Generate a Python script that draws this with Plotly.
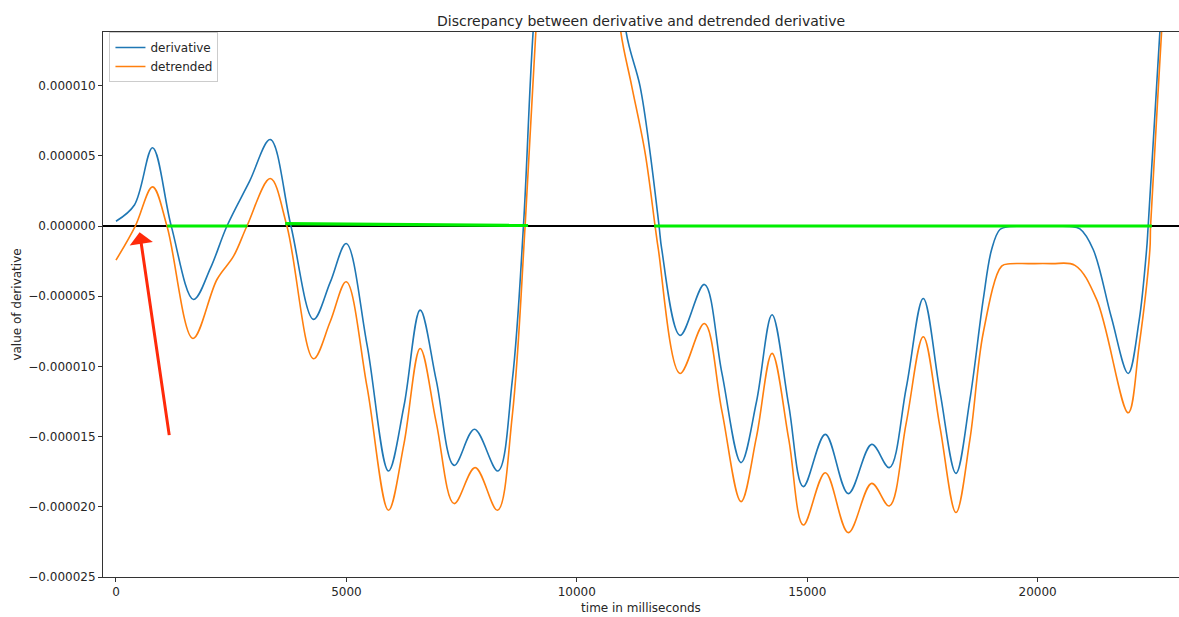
import numpy as np
import plotly.graph_objects as go

# ---- data (y values in units of 1e-6) ----
deriv_t = [0, 400, 794, 1200, 1683, 2050, 2408, 2900, 3347, 3796, 4286, 4650, 4996, 5450, 5913,
           6250, 6601, 6950, 7338, 7779, 8286, 8600, 8842, 9052, 9400, 9900, 10500, 10900, 11069,
           11373, 11590, 11785, 11844, 12241, 12768, 13150, 13564, 13900, 14236, 14600, 14915, 15393,
           15892, 16399, 16781, 17150, 17518, 17880, 18228, 18531, 18820, 19002, 19182, 19400,
           19800, 20300, 20700, 20918, 21206, 21600, 21966, 22200, 22365, 22399, 22653, 22950]
deriv_v = [0.34, 1.5, 5.57, -0.01, -5.23, -3.0, 0.0, 3.2, 6.16, 0.0, -6.65, -4.0, -1.25, -8.5, -17.45,
           -12.8, -5.99, -11.0, -17.05, -14.48, -17.45, -11.0, 0.0, 13.84, 28.0, 38.0, 36.0, 22.0, 13.84,
           9.95, 5.23, 0.0, -1.67, -7.79, -4.16, -10.5, -16.85, -12.5, -6.32, -12.8, -18.56, -14.84,
           -19.06, -15.55, -17.21, -11.5, -5.16, -11.8, -17.62, -12.35, -5.23, -1.67, -0.25, -0.03,
           -0.02, -0.02, -0.03, -0.2, -1.67, -6.5, -10.5, -6.8, -1.67, 0.0, 13.84, 30.0]

detr_t = [0, 419, 794, 1106, 1670, 2191, 2551, 2842, 3347, 3709, 4286, 4650, 4996, 5450, 5913,
          6250, 6601, 6950, 7338, 7794, 8278, 8600, 8878, 9111, 9400, 9900, 10400, 10800, 10954,
          11193, 11482, 11699, 11770, 12241, 12768, 13150, 13564, 13900, 14236, 14600, 14915, 15393,
          15892, 16399, 16781, 17150, 17518, 17880, 18228, 18531, 18820, 19219, 19400,
          19800, 20300, 20810, 21280, 21966, 22200, 22436, 22451, 22690, 22950]
detr_v = [-2.43, 0.0, 2.79, 0.0, -8.01, -3.81, -2.15, 0.0, 3.38, 0.0, -9.45, -6.8, -3.97, -11.5, -20.25,
          -15.5, -8.72, -14.0, -19.77, -17.21, -20.25, -13.5, 0.0, 13.84, 27.0, 37.0, 35.0, 20.0, 13.84,
          9.95, 5.21, 0.0, -1.67, -10.5, -6.94, -13.2, -19.63, -15.0, -9.07, -15.2, -21.3, -17.57,
          -21.84, -18.33, -19.94, -14.0, -7.89, -14.3, -20.41, -15.2, -7.6, -2.86, -2.69,
          -2.68, -2.68, -2.8, -5.23, -13.3, -8.6, -1.67, 0.0, 13.84, 29.0]

green_segments = [
    ([1113, 2848], [0.0, 0.0]),
    ([3672, 8943], [0.17, 0.04]),
    ([11677, 22479], [0.0, 0.0]),
]

arrow_tail = (1160, -15.0)
arrow_head = (512, -0.44)

x_ticks = [0, 5000, 10000, 15000, 20000]
x_tick_labels = ["0", "5000", "10000", "15000", "20000"]
y_ticks = [10, 5, 0, -5, -10, -15, -20, -25]
y_tick_labels = ["0.000010", "0.000005", "0.000000", "\u22120.000005", "\u22120.000010",
                 "\u22120.000015", "\u22120.000020", "\u22120.000025"]

S = 1e-6
FONT = "DejaVu Sans"

fig = go.Figure()
fig.add_trace(go.Scatter(x=deriv_t, y=np.array(deriv_v) * S, mode="lines", name="derivative",
                         line=dict(color="#1f77b4", width=1.6, shape="spline", smoothing=1.0)))
fig.add_trace(go.Scatter(x=detr_t, y=np.array(detr_v) * S, mode="lines", name="detrended",
                         line=dict(color="#ff7f0e", width=1.6, shape="spline", smoothing=1.0)))
for gx, gy in green_segments:
    fig.add_trace(go.Scatter(x=gx, y=np.array(gy) * S, mode="lines", showlegend=False,
                             line=dict(color="#00ee00", width=3.2), hoverinfo="skip"))

fig.add_shape(type="line", xref="paper", x0=0, x1=1, yref="y", y0=0, y1=0,
              line=dict(color="black", width=2), layer="below")

fig.add_annotation(x=arrow_head[0], y=arrow_head[1] * S, ax=arrow_tail[0], ay=arrow_tail[1] * S,
                   xref="x", yref="y", axref="x", ayref="y", text="", showarrow=True,
                   arrowhead=1, arrowsize=1.3, arrowwidth=3, arrowcolor="#ff2a0a")

fig.update_layout(
    width=1179, height=617,
    margin=dict(l=103, r=0, t=32, b=40, autoexpand=False),
    paper_bgcolor="white", plot_bgcolor="white",
    font=dict(family=FONT, size=12, color="#262626"),
    title=dict(text="Discrepancy between derivative and detrended derivative",
               x=0.5, xref="paper", xanchor="center", y=1, yref="paper", yanchor="bottom",
               pad=dict(b=6), font=dict(size=14, family=FONT, color="#262626")),
    showlegend=True,
    legend=dict(x=0.006, y=1.0, xanchor="left", yanchor="top", itemwidth=30,
                bgcolor="rgba(255,255,255,0.8)", bordercolor="#cccccc", borderwidth=1,
                font=dict(size=12, family=FONT), tracegroupgap=0),
)
fig.update_xaxes(range=[-282, 23068], tickvals=x_ticks, ticktext=x_tick_labels, automargin=False,
                 showgrid=False, zeroline=False, showline=True, linecolor="#333333", linewidth=1,
                 mirror=True, ticks="outside", ticklen=4, tickcolor="#333333",
                 title=dict(text="time in milliseconds", standoff=5, font=dict(size=12)))
fig.update_yaxes(range=[-25e-6, 13.82e-6], tickvals=[v * S for v in y_ticks], ticktext=y_tick_labels,
                 automargin=False,
                 showgrid=False, zeroline=False, showline=True, linecolor="#333333", linewidth=1,
                 ticks="outside", ticklen=4, tickcolor="#333333",
                 title=dict(text="value of derivative", standoff=4, font=dict(size=12)))

fig.write_html("out.html", config={"displayModeBar": False},
               post_script="document.body.style.margin='0px';document.body.style.overflow='hidden';")
